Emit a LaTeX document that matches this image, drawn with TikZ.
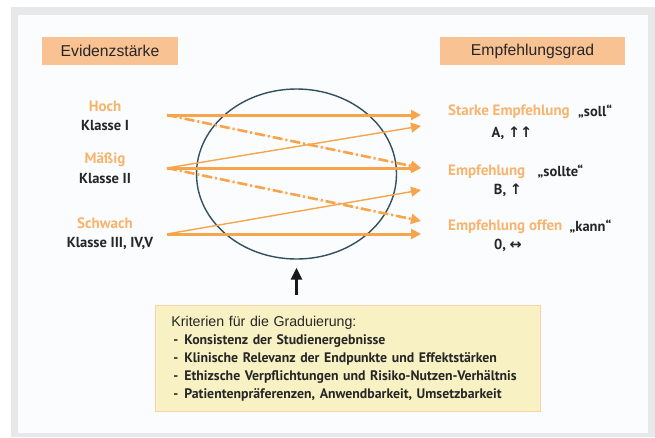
\documentclass[tikz,border=0pt]{standalone}
\usepackage{fontspec}
\setmainfont{Liberation Sans}
\newfontfamily\labfont{PT Sans}
\newfontfamily\symfont{DejaVu Sans}
\usetikzlibrary{arrows.meta, shapes.geometric, positioning}

\definecolor{hdrorange}{HTML}{F9C293}
\definecolor{arrorange}{HTML}{F6A54C}
\definecolor{txtorange}{HTML}{F8B46C}
\definecolor{ringblue}{HTML}{34505F}
\definecolor{critfill}{HTML}{F8F1C4}
\definecolor{critline}{HTML}{F8D3A8}
\definecolor{framegray}{HTML}{E7E8E9}
\definecolor{panelwhite}{HTML}{FBFCFE}

\tikzstyle{hdr} = [rectangle, fill=hdrorange, minimum height=28pt, inner sep=0pt, text=black!85, font=\fontsize{15.7}{18}\selectfont]
\tikzstyle{lvl} = [inner sep=0pt, text=txtorange, font=\labfont\bfseries\fontsize{15}{16}\selectfont]
\tikzstyle{cls} = [inner sep=0pt, text=black!85, font=\labfont\bfseries\fontsize{14.5}{16}\selectfont]
\tikzstyle{grade} = [inner sep=0pt, text=black!85, font=\labfont\bfseries\fontsize{14.5}{16}\selectfont]
\tikzstyle{main} = [-{Triangle[length=10pt,width=10pt]}, line width=3pt, draw=arrorange, fill=arrorange]
\tikzstyle{thin} = [-{Triangle[length=10pt,width=10pt]}, line width=1.4pt, draw=arrorange, fill=arrorange]
\tikzstyle{dashdot} = [-{Triangle[length=10pt,width=10pt]}, line width=2.6pt, draw=arrorange, fill=arrorange, dash pattern=on 10pt off 3pt on 2pt off 3pt]
\tikzstyle{uparrow} = [-{Triangle[length=12pt,width=11pt]}, line width=3pt, draw=black!90]

\begin{document}
\begin{tikzpicture}[x=1pt, y=-1pt]
    \useasboundingbox (0,0) rectangle (655,437);
    \fill[framegray]  (11,7)  rectangle (655,437);
    \fill[panelwhite] (18,15) rectangle (648,433);

    % headers
    \node (hdrL) [hdr, minimum width=136pt] at (110,51)   {Evidenzstärke};
    \node (hdrR) [hdr, minimum width=185pt] at (532.5,51) {Empfehlungsgrad};

    % evidence levels
    \node (hoch)    [lvl] at (105,106) {Hoch};
    \node (klI)     [cls] at (105,126) {Klasse I};
    \node (maessig) [lvl] at (105,160) {Mäßig};
    \node (klII)    [cls] at (105,179) {Klasse II};
    \node (schwach) [lvl] at (105,223) {Schwach};
    \node (klIII)   [cls] at (110,243) {Klasse III, IV,V};

    % grades
    \node (stark)  [lvl, anchor=west] at (448,112) {Starke Empfehlung};
    \node (soll)   [grade, right=8pt of stark] {„soll“};
    \node (gA)     [grade] at (512,133) {A, {\symfont\bfseries ↑↑}};
    \node (empf)   [lvl, anchor=west] at (448,172) {Empfehlung};
    \node (sollte) [grade, right=12pt of empf] {„sollte“};
    \node (gB)     [grade] at (508,190) {B, {\symfont\bfseries ↑}};
    \node (offen)  [lvl, anchor=west] at (448,227) {Empfehlung offen};
    \node (kann)   [grade, right=7pt of offen] {„kann“};
    \node (g0)     [grade] at (508,245) {0, {\symfont\bfseries ↔}};

    % the circle
    \node (ring) [ellipse, draw=ringblue, line width=1.4pt, minimum width=200pt, minimum height=170pt, inner sep=0pt] at (296.5,174) {};

    % arrow ends
    \coordinate (hL) at (167,115);
    \coordinate (mL) at (167,168);
    \coordinate (sL) at (167,234);
    \coordinate (aE)  at (421,115);
    \coordinate (a2E) at (421,126);
    \coordinate (bE)  at (421,168);
    \coordinate (b2E) at (421,190);
    \coordinate (cE)  at (421,221);
    \coordinate (c2E) at (421,234);

    \draw [thin]    (mL) -- (a2E);
    \draw [thin]    (sL) -- (b2E);
    \draw [dashdot] (hL) -- (bE);
    \draw [dashdot] (mL) -- (cE);
    \draw [main]    (hL) -- (aE);
    \draw [main]    (mL) -- (bE);
    \draw [main]    (sL) -- (c2E);

    % criteria
    \node (crit) [rectangle, fill=critfill, draw=critline, line width=0.8pt, anchor=north west,
      minimum width=385pt, minimum height=106pt, text width=353pt, align=left, inner xsep=16pt,
      font=\labfont\bfseries\fontsize{13.8}{18}\selectfont, text=black!85] at (155,305)
      {{\rmfamily\mdseries\fontsize{14.2}{18}\selectfont Kriterien für die Graduierung:}\\
       \hspace{2pt}-\hspace{6pt}Konsistenz der Studienergebnisse\\
       \hspace{2pt}-\hspace{6pt}Klinische Relevanz der Endpunkte und Effektstärken\\
       \hspace{2pt}-\hspace{6pt}Ethizsche Verpflichtungen und Risiko-Nutzen-Verhältnis\\
       \hspace{2pt}-\hspace{6pt}Patientenpräferenzen, Anwendbarkeit, Umsetzbarkeit};

    \draw [uparrow, shorten <=10pt, shorten >=8pt] (ring.south |- crit.north) -- (ring.south);
\end{tikzpicture}
\end{document}
